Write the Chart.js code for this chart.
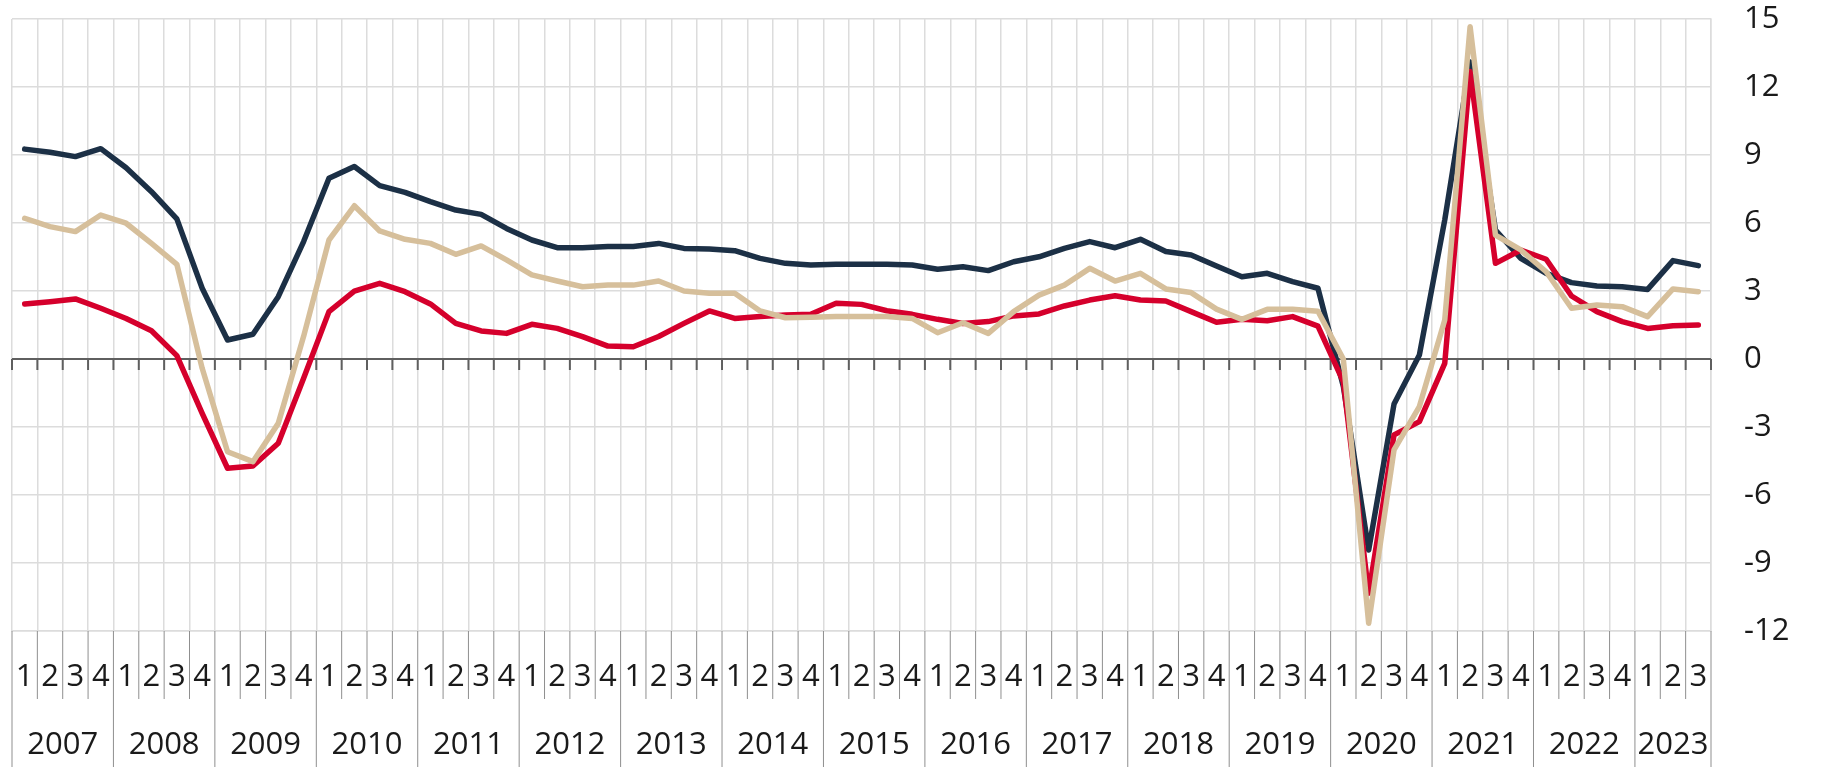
<!DOCTYPE html>
<html>
<head>
<meta charset="utf-8">
<script src="https://cdn.jsdelivr.net/npm/chart.js@4.4.0/dist/chart.umd.min.js"></script>
<style>
html, body { margin: 0; padding: 0; background: #fff; }
#wrap { width: 1834px; height: 767px; }
</style>
</head>
<body>
<div id="wrap"><canvas id="c"></canvas></div>
<script>
// quarters per year (2023 only has three so far)
var years = ['2007', '2008', '2009', '2010', '2011', '2012', '2013', '2014', '2015',
             '2016', '2017', '2018', '2019', '2020', '2021', '2022', '2023'];
var quartersInYear = [4, 4, 4, 4, 4, 4, 4, 4, 4, 4, 4, 4, 4, 4, 4, 4, 3];

var navy = [9.26, 9.12, 8.93, 9.28, 8.44, 7.38, 6.18, 3.12,
            0.84, 1.09, 2.75, 5.18, 7.97, 8.49, 7.65, 7.35,
            6.94, 6.57, 6.38, 5.76, 5.25, 4.91, 4.91, 4.96,
            4.96, 5.10, 4.88, 4.85, 4.78, 4.44, 4.22, 4.15,
            4.18, 4.18, 4.18, 4.15, 3.96, 4.07, 3.90, 4.29,
            4.51, 4.88, 5.18, 4.91, 5.28, 4.74, 4.59, 4.10,
            3.63, 3.78, 3.41, 3.12, -1.2, -8.43, -1.99, 0.18,
            6.13, 13.1, 5.69, 4.44, 3.78, 3.37, 3.22, 3.19,
            3.07, 4.34, 4.12];

var red = [2.43, 2.53, 2.65, 2.24, 1.79, 1.25, 0.15, -2.4,
           -4.82, -4.72, -3.72, -0.85, 2.09, 2.99, 3.34, 2.97,
           2.43, 1.57, 1.24, 1.13, 1.53, 1.35, 0.99, 0.57,
           0.54, 0.99, 1.57, 2.12, 1.79, 1.87, 1.94, 1.97,
           2.46, 2.41, 2.13, 1.97, 1.75, 1.57, 1.65, 1.90,
           1.99, 2.34, 2.60, 2.79, 2.60, 2.56, 2.09, 1.62,
           1.75, 1.69, 1.87, 1.45, -1.0, -10.34, -3.35, -2.76,
           -0.19, 12.68, 4.22, 4.81, 4.40, 2.78, 2.09, 1.65,
           1.35, 1.47, 1.50];

var beige = [6.21, 5.84, 5.62, 6.35, 5.99, 5.10, 4.18, -0.41,
             -4.09, -4.53, -2.84, 1.0, 5.25, 6.76, 5.65, 5.28,
             5.10, 4.62, 4.99, 4.37, 3.71, 3.44, 3.19, 3.26,
             3.26, 3.44, 3.0, 2.90, 2.90, 2.12, 1.82, 1.84,
             1.87, 1.87, 1.87, 1.79, 1.16, 1.60, 1.13, 2.09,
             2.82, 3.26, 4.0, 3.44, 3.78, 3.09, 2.93, 2.2,
             1.75, 2.19, 2.19, 2.11, 0.0, -11.66, -4.01, -2.10,
             1.72, 14.66, 5.47, 4.81, 3.85, 2.24, 2.38, 2.31,
             1.87, 3.09, 2.97];

var yMin = -12, yMax = 15, yStep = 3;

var labels = [];
var quarterNo = [];
var yearStart = [];
for (var y = 0; y < years.length; y++) {
  yearStart.push(labels.length);
  for (var q = 1; q <= quartersInYear[y]; q++) {
    labels.push(years[y] + ' Q' + q);
    quarterNo.push(String(q));
  }
}

var FONT = '"Open Sans", "Noto Sans", sans-serif';
var TEXT = '#1a1a1a';
var GRID = '#dcdcdc';

var axisDecor = {
  id: 'axisDecor',
  beforeDatasetsDraw: function (chart) {
    var ctx = chart.ctx, xs = chart.scales.x, ys = chart.scales.y, area = chart.chartArea;
    var half = (xs.getPixelForValue(1) - xs.getPixelForValue(0)) / 2;
    var y0 = ys.getPixelForValue(0);
    var qRow = area.bottom + 68;
    ctx.save();
    // separators under the plot
    ctx.strokeStyle = '#8f8f8f';
    ctx.lineWidth = 1;
    for (var i = 0; i <= labels.length; i++) {
      var px = (i < labels.length ? xs.getPixelForValue(i) - half : xs.getPixelForValue(i - 1) + half);
      var full = i === labels.length || yearStart.indexOf(i) >= 0;
      ctx.beginPath();
      ctx.moveTo(px, area.bottom);
      ctx.lineTo(px, full ? chart.height : qRow);
      ctx.stroke();
    }
    // zero line with small ticks
    ctx.strokeStyle = '#5f5f5f';
    ctx.lineWidth = 2;
    ctx.beginPath();
    ctx.moveTo(area.left, y0);
    ctx.lineTo(area.right, y0);
    ctx.stroke();
    for (var k = 0; k <= labels.length; k++) {
      var tx = (k < labels.length ? xs.getPixelForValue(k) - half : xs.getPixelForValue(k - 1) + half);
      ctx.beginPath();
      ctx.moveTo(tx, y0);
      ctx.lineTo(tx, y0 + 11);
      ctx.stroke();
    }
    // year labels
    ctx.fillStyle = TEXT;
    ctx.font = '31px ' + FONT;
    ctx.textAlign = 'center';
    ctx.textBaseline = 'middle';
    for (var j = 0; j < years.length; j++) {
      var a = xs.getPixelForValue(yearStart[j]);
      var b = xs.getPixelForValue(yearStart[j] + quartersInYear[j] - 1);
      ctx.fillText(years[j], (a + b) / 2, area.bottom + 114);
    }
    ctx.restore();
  }
};

function line(data, color) {
  return {
    data: data,
    borderColor: color,
    backgroundColor: color,
    borderWidth: 5.5,
    pointRadius: 0,
    tension: 0,
    fill: false,
    borderCapStyle: 'round',
    borderJoinStyle: 'round'
  };
}

new Chart(document.getElementById('c'), {
  type: 'line',
  data: {
    labels: labels,
    // first dataset is painted on top
    datasets: [line(beige, '#d6bf9b'), line(red, '#d5002c'), line(navy, '#1c3046')]
  },
  options: {
    responsive: true,
    maintainAspectRatio: false,
    animation: false,
    layout: { padding: { left: 12, top: 19, right: 0, bottom: 0 } },
    plugins: { legend: { display: false }, tooltip: { enabled: false } },
    scales: {
      x: {
        type: 'category',
        offset: true,
        afterFit: function (s) { s.height = 136; },
        // tick length only pushes the labels down, the marks are invisible
        grid: { offset: true, color: GRID, lineWidth: 1.5, drawTicks: true, tickLength: 28, tickColor: 'rgba(0,0,0,0)' },
        border: { color: GRID, width: 1.5 },
        ticks: {
          autoSkip: false, maxRotation: 0, padding: 0,
          color: TEXT, font: { family: FONT, size: 31 },
          callback: function (v, i) { return quarterNo[i]; }
        }
      },
      y: {
        position: 'right',
        min: yMin, max: yMax,
        afterFit: function (s) { s.width = 123; },
        grid: { color: GRID, lineWidth: 1.5, drawTicks: true, tickLength: 33, tickColor: 'rgba(0,0,0,0)' },
        border: { color: GRID, width: 1.5 },
        ticks: {
          stepSize: yStep, padding: 0,
          color: TEXT, font: { family: FONT, size: 31 }
        }
      }
    }
  },
  plugins: [axisDecor]
});
</script>
</body>
</html>
